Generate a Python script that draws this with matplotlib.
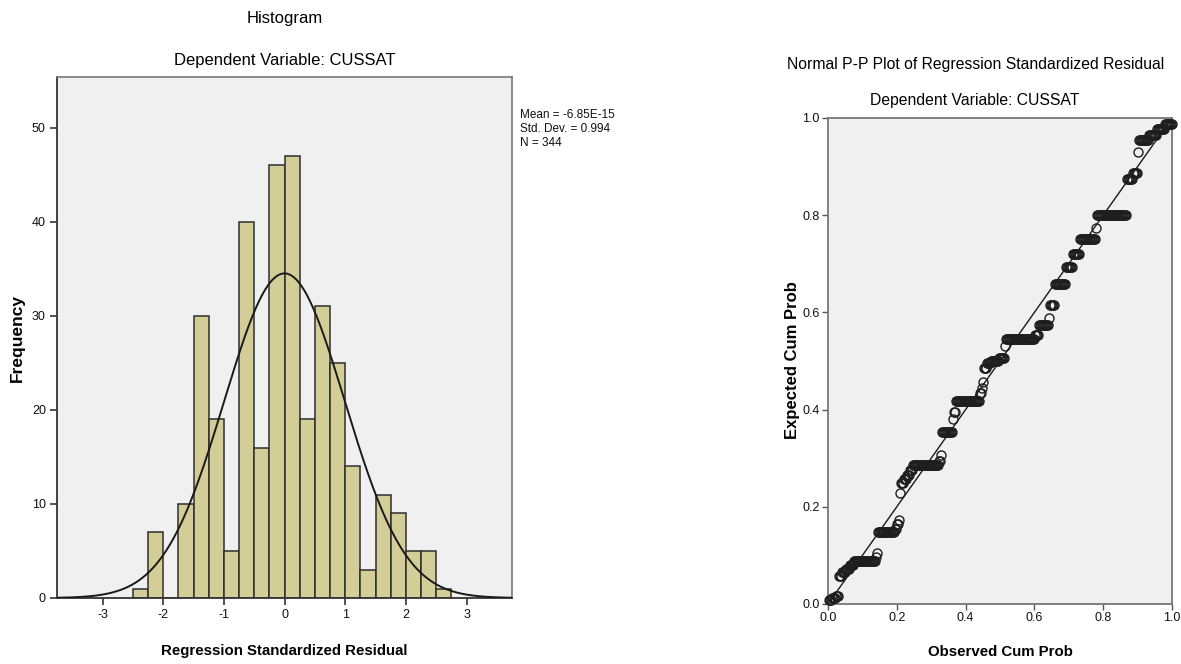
import numpy as np
import matplotlib
matplotlib.use("Agg")
import matplotlib.pyplot as plt

plt.rcParams['font.family'] = ['Liberation Sans', 'DejaVu Sans']

# ---------------- data ----------------
bin_left = [-2.5, -2.25, -2.0, -1.75, -1.5, -1.25, -1.0, -0.75, -0.5, -0.25,
            0.0, 0.25, 0.5, 0.75, 1.0, 1.25, 1.5, 1.75, 2.0, 2.25, 2.5]
freq = [1, 7, 0, 10, 30, 19, 5, 40, 16, 46,
        47, 19, 31, 25, 14, 3, 11, 9, 5, 5, 1]
bin_width = 0.25
res_mean = -6.85e-15
res_sd = 0.994
n_cases = 344
hist_xticks = [-3, -2, -1, 0, 1, 2, 3]
hist_yticks = [0, 10, 20, 30, 40, 50]

# P-P plot: expected cumulative probability levels and number of cases at each level
pp_expected = [0.008, 0.013, 0.016,
               0.058, 0.065, 0.072, 0.080,
               0.088, 0.097, 0.105,
               0.148, 0.155, 0.165, 0.173,
               0.228, 0.250, 0.258, 0.265, 0.275,
               0.287, 0.295, 0.307,
               0.354, 0.380, 0.395,
               0.418, 0.435, 0.445, 0.457,
               0.485, 0.495, 0.500, 0.506, 0.530,
               0.545, 0.553,
               0.575, 0.588,
               0.615, 0.658, 0.693, 0.720,
               0.752, 0.774,
               0.800,
               0.875, 0.886, 0.930,
               0.955, 0.965, 0.978, 0.988]
pp_counts = [3, 4, 3,
             3, 4, 4, 4,
             22, 1, 1,
             17, 2, 2, 1,
             1, 3, 3, 3, 3,
             26, 2, 1,
             11, 1, 2,
             24, 2, 1, 1,
             3, 4, 8, 6, 1,
             29, 4,
             10, 1,
             5, 11, 7, 7,
             16, 1,
             30,
             6, 5, 1,
             10, 8, 8, 8]
pp_ticks = [0.0, 0.2, 0.4, 0.6, 0.8, 1.0]

# ---------------- figure ----------------
W, H = 1181, 664
fig = plt.figure(figsize=(W / 100, H / 100), dpi=100)
fig.patch.set_facecolor('white')

def fx(px):
    return px / W

def fy(py):
    return 1 - py / H

bg = '#f0f0f0'
bar_face = '#d3ce97'
edge = '#2e2e2e'

# ---- Histogram ----
ax1 = fig.add_axes([fx(57), fy(598), fx(512) - fx(57), fy(77) - fy(598)])
ax1.set_facecolor(bg)
ax1.bar(bin_left, freq, width=bin_width, align='edge', color=bar_face,
        edgecolor=edge, linewidth=1.1, zorder=2)
xs = np.linspace(-3.75, 3.75, 400)
curve = n_cases * bin_width / (res_sd * np.sqrt(2 * np.pi)) * np.exp(-0.5 * ((xs - res_mean) / res_sd) ** 2)
ax1.plot(xs, curve, color='#1a1a1a', linewidth=1.4, zorder=3)
ax1.set_xlim(-3.75, 3.75)
ax1.set_ylim(0, 55.4)
ax1.set_xticks(hist_xticks)
ax1.set_xticklabels([str(t) for t in hist_xticks])
ax1.set_yticks(hist_yticks)
ax1.tick_params(axis='both', direction='out', length=5, width=1.2, colors='#333333',
                labelsize=9, labelcolor='#111111', pad=3)
for s in ['left', 'bottom']:
    ax1.spines[s].set_color('#333333')
    ax1.spines[s].set_linewidth(1.3)
for s in ['top', 'right']:
    ax1.spines[s].set_color('#777777')
    ax1.spines[s].set_linewidth(1.2)

fig.text(fx(285), fy(18), 'Histogram', ha='center', va='center', fontsize=12)
fig.text(fx(285), fy(60), 'Dependent Variable: CUSSAT', ha='center', va='center', fontsize=12)
fig.text(fx(17), fy(338), 'Frequency', ha='center', va='center', rotation=90,
         fontsize=12.5, fontweight='bold')
fig.text(fx(284), fy(651), 'Regression Standardized Residual', ha='center', va='center',
         fontsize=10.8, fontweight='bold')
stats_lines = ['Mean = -6.85E-15', 'Std. Dev. = %.3f' % res_sd, 'N = %d' % n_cases]
for i, line in enumerate(stats_lines):
    fig.text(fx(520), fy(115 + 14 * i), line, ha='left', va='center', fontsize=8.5,
             color='#111111')

# ---- P-P plot ----
ax2 = fig.add_axes([fx(828), fy(604), fx(1172) - fx(828), fy(118) - fy(604)])
ax2.set_facecolor(bg)
obs_y = np.repeat(pp_expected, pp_counts)
obs_x = np.arange(1, len(obs_y) + 1) / len(obs_y)
ax2.plot([0, 1], [0, 1], color='#1a1a1a', linewidth=1.0, zorder=2)
ax2.plot(obs_x, obs_y, linestyle='none', marker='o', markersize=6.5,
         markerfacecolor='none', markeredgecolor='#1e1e1e', markeredgewidth=1.0,
         zorder=3, clip_on=False)
ax2.set_xlim(0, 1)
ax2.set_ylim(0, 1)
ax2.set_xticks(pp_ticks)
ax2.set_yticks(pp_ticks)
ax2.set_xticklabels(['%.1f' % t for t in pp_ticks])
ax2.set_yticklabels(['%.1f' % t for t in pp_ticks])
ax2.tick_params(axis='both', direction='out', length=4, width=1.0, colors='#555555',
                labelsize=9, labelcolor='#111111', pad=2)
for s in ax2.spines.values():
    s.set_color('#777777')
    s.set_linewidth(1.3)

fig.text(fx(976), fy(64), 'Normal P-P Plot of Regression Standardized Residual',
         ha='center', va='center', fontsize=11.3)
fig.text(fx(975), fy(101), 'Dependent Variable: CUSSAT', ha='center', va='center', fontsize=11.3)
fig.text(fx(792), fy(360), 'Expected Cum Prob', ha='center', va='center', rotation=90,
         fontsize=12, fontweight='bold')
fig.text(fx(1000), fy(652), 'Observed Cum Prob', ha='center', va='center',
         fontsize=10.8, fontweight='bold')

fig.savefig('out.png', dpi=100, facecolor='white')
